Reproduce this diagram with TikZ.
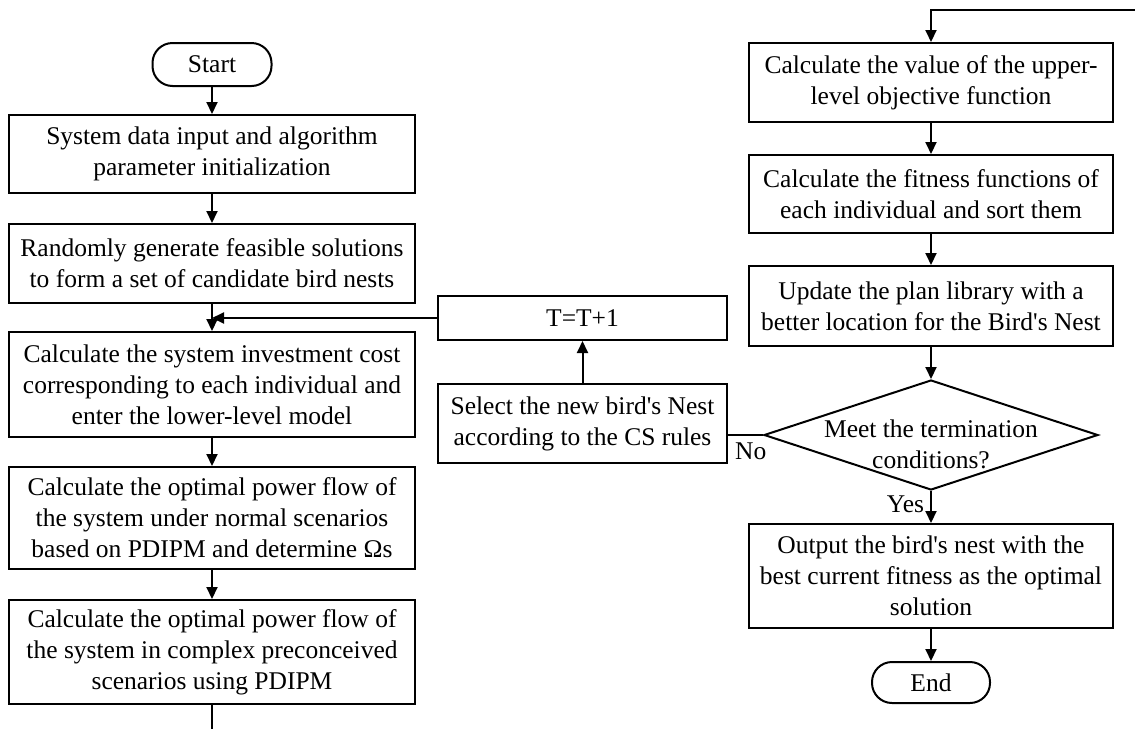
\documentclass[tikz,border=0pt]{standalone}
\usepackage{fontspec}
\setmainfont{Liberation Serif}[Ligatures=TeXOff]
\usetikzlibrary{arrows.meta,shapes.geometric}
\tikzset{
  box/.style 2 args={draw, line width=2pt, align=center, inner sep=0pt,
    minimum width=#1, minimum height=#2, font=\fontsize{25.5}{31}\selectfont},
  term/.style 2 args={box={#1}{#2}, rounded corners=20pt},
  decision/.style={draw, diamond, line width=2pt, inner sep=0pt,
    minimum width=334pt, minimum height=110pt},
  flow/.style={line width=2pt, -{Triangle[length=12pt,width=11pt]}},
  line/.style={line width=2pt},
  lbl/.style={font=\fontsize{25.5}{31}\selectfont, align=center, inner sep=2pt}
}
\begin{document}
\begin{tikzpicture}[x=1pt,y=-1pt]
  \useasboundingbox (0,0) rectangle (1135,729);
  % left column
  \node[term={119pt}{43pt}] (start) at (212,64.5) {Start};
  \node[box={406pt}{78pt}] (init) at (212,154) {System data input and algorithm\\parameter initialization};
  \node[box={406pt}{79pt}] (nests) at (212,263.5) {Randomly generate feasible solutions\\to form a set of candidate bird nests};
  \node[box={406pt}{105pt}] (invest) at (212,384.5) {Calculate the system investment cost\\corresponding to each individual and\\enter the lower-level model};
  \node[box={406pt}{102pt}] (normal) at (212,518) {Calculate the optimal power flow of\\the system under normal scenarios\\based on PDIPM and determine Ωs};
  \node[box={406pt}{104pt}] (complex) at (212,652) {Calculate the optimal power flow of\\the system in complex preconceived\\scenarios using PDIPM};
  \coordinate (outL) at (212,729);
  % middle column
  \node[box={289pt}{44pt}] (tstep) at (582.5,318) {T=T+1};
  \node[box={289pt}{79pt}] (select) at (582.5,423.5) {Select the new bird's Nest\\according to the CS rules};
  % right column
  \coordinate (inR) at (1135,10);
  \node[box={364pt}{79pt}] (upper) at (931,82.5) {Calculate the value of the upper-\\level objective function};
  \node[box={364pt}{78pt}] (fitness) at (931,194) {Calculate the fitness functions of\\each individual and sort them};
  \node[box={364pt}{80pt}] (update) at (931,306) {Update the plan library with a\\better location for the Bird's Nest};
  \node[decision] (meet) at (931,435) {};
  \node[lbl] (meetlbl) at (931,444) {Meet the termination\\conditions?};
  \node[box={364pt}{104pt}] (output) at (931,576) {Output the bird's nest with the\\best current fitness as the optimal\\solution};
  \node[term={118pt}{41pt}] (stop) at (931,682.5) {End};

  \draw[flow] (start) -- (init);
  \draw[flow] (init) -- (nests);
  \draw[flow] (nests) -- (invest);
  \draw[flow] (invest) -- (normal);
  \draw[flow] (normal) -- (complex);
  \draw[line] (complex) -- (outL);
  \draw[flow] (tstep.west) -- (tstep.west -| invest.north);
  \draw[flow] (select) -- (tstep);
  \draw[line] (meet.west) -- node[lbl, below, pos=0.35, yshift=-5pt] {No} (meet.west -| select.east);
  \draw[flow] (inR) -| (upper.north);
  \draw[flow] (upper) -- (fitness);
  \draw[flow] (fitness) -- (update);
  \draw[flow] (update) -- (meet.north);
  \draw[flow] (meet.south) -- node[lbl, left, pos=0.4, xshift=-4pt] {Yes} (output);
  \draw[flow] (output) -- (stop);
\end{tikzpicture}
\end{document}
